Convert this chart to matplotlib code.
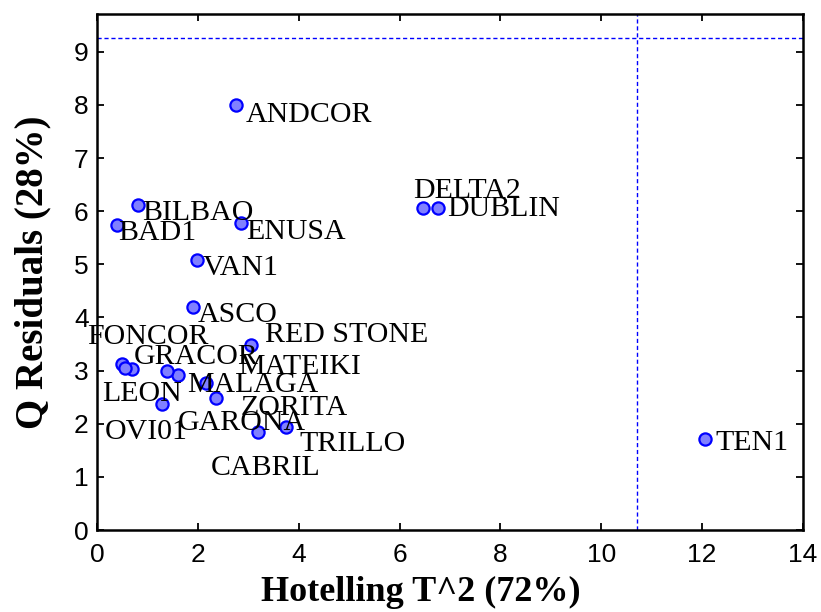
import matplotlib
matplotlib.use("Agg")
import matplotlib.pyplot as plt

# Hotelling T^2 vs Q residuals for each site
sites = ["ANDCOR", "DELTA2", "DUBLIN", "BILBAO", "BAD1", "ENUSA", "VAN1", "ASCO",
         "FONCOR", "RED STONE", "GRACOR", "MATEIKI", "MALAGA", "LEON", "ZORITA",
         "GARONA", "OVI01", "TRILLO", "CABRIL", "TEN1"]
t2 = [2.76, 6.46, 6.77, 0.82, 0.40, 2.86, 1.99, 1.91,
      0.50, 3.05, 0.69, 1.61, 2.16, 1.29, 2.36,
      3.20, 0.55, 3.74, 1.39, 12.05]
q = [8.00, 6.05, 6.05, 6.11, 5.74, 5.77, 5.09, 4.20,
     3.12, 3.48, 3.03, 2.92, 2.77, 2.37, 2.49,
     1.84, 3.05, 1.94, 2.99, 1.71]

# where each site name is written (left edge, vertical centre)
label_t2 = [2.94, 6.27, 6.94, 0.89, 0.42, 2.96, 2.10, 2.00,
            -0.20, 3.33, 0.73, 2.80, 1.79, 0.10, 2.84,
            1.61, 0.16, 4.01, 2.26, 12.26]
label_q = [7.81, 6.38, 6.04, 5.96, 5.59, 5.61, 4.93, 4.05,
           3.63, 3.67, 3.25, 3.07, 2.73, 2.56, 2.30,
           2.01, 1.84, 1.62, 1.17, 1.64]

# 95% confidence limits
t2_limit = 10.71
q_limit = 9.26

x_ticks = [0, 2, 4, 6, 8, 10, 12, 14]
y_ticks = [0, 1, 2, 3, 4, 5, 6, 7, 8, 9]

fig = plt.figure(figsize=(8.21, 6.12), dpi=100)
ax = fig.add_axes([97 / 821, 82 / 612, 706 / 821, 516 / 612])

ax.axhline(q_limit, color="#0000ff", lw=1.0, ls=(0, (3, 2)))
ax.axvline(t2_limit, color="#0000ff", lw=1.0, ls=(0, (3, 2)))

ax.plot(t2, q, ls="none", marker="o", ms=8.8, mfc="#8080ff", mec="#0000ff",
        mew=1.6, zorder=3)

for name, lx, ly in zip(sites, label_t2, label_q):
    ax.text(lx, ly, name, family="Liberation Serif", fontsize=21.5,
            ha="left", va="center", clip_on=False, zorder=4)

ax.set_xlim(0, 14)
ax.set_ylim(0, 9.71)
ax.set_xticks(x_ticks)
ax.set_yticks(y_ticks)

for lab in ax.get_xticklabels() + ax.get_yticklabels():
    lab.set_family("Liberation Sans")
    lab.set_fontsize(19)

ax.tick_params(direction="in", length=5, width=1.3, top=True, right=True)
ax.tick_params(axis="x", pad=9)
ax.tick_params(axis="y", pad=6)
for sp in ax.spines.values():
    sp.set_linewidth(1.8)

ax.set_xlabel("Hotelling T^2 (72%)", family="Liberation Serif",
              fontweight="bold", fontsize=26)
ax.xaxis.set_label_coords(0.459, -0.09)
ax.set_ylabel("Q Residuals (28%)", family="Liberation Serif",
              fontweight="bold", fontsize=28, labelpad=16)

fig.savefig("out.png", dpi=100)
